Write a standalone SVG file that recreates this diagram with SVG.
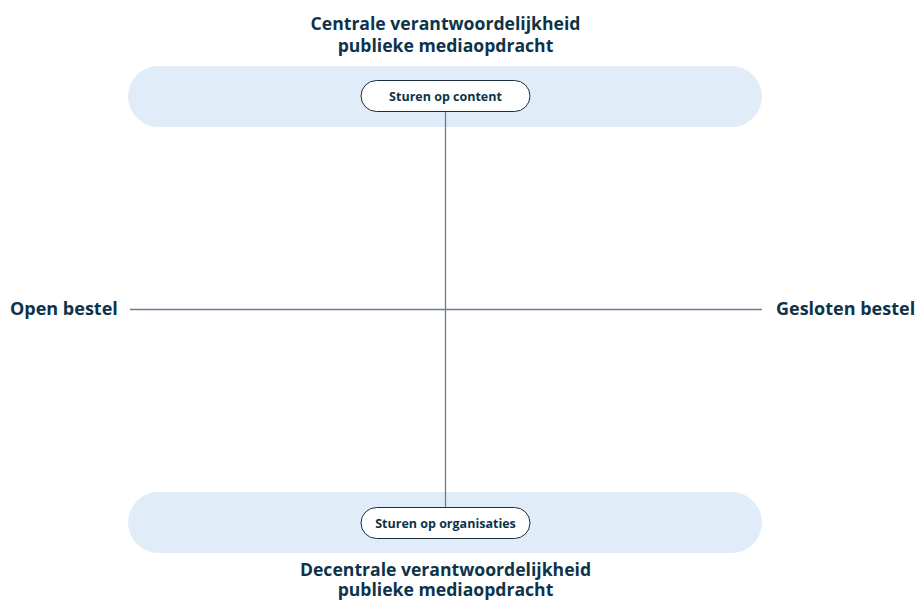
<svg xmlns="http://www.w3.org/2000/svg" width="915" height="600" viewBox="0 0 915 600">
<style>
.band{fill:#e1ecf9}
.pill{fill:#fff;stroke:#1a2e40;stroke-width:1}
.ttl{font-family:"Open Sans","Liberation Sans",sans-serif;font-weight:700;font-size:17.6px;fill:#0d3349;text-anchor:middle}
.side{font-family:"Open Sans","Liberation Sans",sans-serif;font-weight:700;font-size:18px;fill:#0d3349}
.lbl{font-family:"Open Sans","Liberation Sans",sans-serif;font-weight:700;font-size:12.5px;fill:#0d3349;text-anchor:middle}
.ax{stroke:#6c7b98;stroke-width:1.3;fill:none}
</style>
<rect class="band" x="128" y="66" width="634" height="61" rx="30.5"/>
<rect class="band" x="128" y="492" width="634" height="61" rx="30.5"/>
<g id="connectors">
<line class="ax" x1="445.5" y1="111" x2="445.5" y2="507"/>
<line class="ax" x1="130" y1="309.5" x2="762" y2="309.5"/>
</g>
<g id="title-top">
<text class="ttl" x="445.5" y="30">Centrale verantwoordelijkheid</text>
<text class="ttl" x="445.5" y="52">publieke mediaopdracht</text>
</g>
<g id="title-bottom">
<text class="ttl" x="445.5" y="576">Decentrale verantwoordelijkheid</text>
<text class="ttl" x="445.5" y="596">publieke mediaopdracht</text>
</g>
<g id="open">
<text class="side" x="10" y="315">Open bestel</text>
</g>
<g id="gesloten">
<text class="side" x="776" y="315">Gesloten bestel</text>
</g>
<g id="content">
<rect class="pill" x="361" y="80.5" width="169" height="31" rx="15.5"/>
<text class="lbl" x="445.5" y="100.5">Sturen op content</text>
</g>
<g id="organisaties">
<rect class="pill" x="361" y="507.5" width="169" height="31" rx="15.5"/>
<text class="lbl" x="445.5" y="527.5">Sturen op organisaties</text>
</g>
</svg>
